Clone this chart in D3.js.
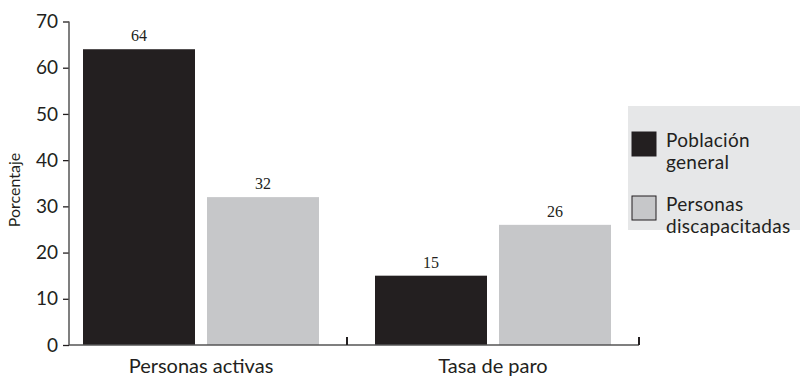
<!DOCTYPE html>
<html>
<head>
<meta charset="utf-8">
<script src="https://cdn.jsdelivr.net/npm/d3@7"></script>
<style>
  body { margin: 0; background: #fff; }
  svg text { font-family: Lato, "Open Sans", sans-serif; fill: #231f20; }
  .value { font-family: "Liberation Serif", serif; font-size: 16px; }
</style>
</head>
<body>
<div id="vis"></div>
<script>
// Data
var categories = ['Personas activas', 'Tasa de paro'];
var series = ['Población general', 'Personas discapacitadas'];
var poblacionGeneral = [64, 15];
var personasDiscapacitadas = [32, 26];
var yTicks = [0, 10, 20, 30, 40, 50, 60, 70];
var colors = ['#231f20', '#c6c7c9'];

var width = 800, height = 378;

var svg = d3.select('#vis').append('svg')
    .attr('width', width)
    .attr('height', height);

// Scales
var yScale = d3.scaleLinear().domain([0, 70]).range([345, 21.5]);
var xScale = d3.scaleBand().domain(categories).range([55, 639]);
var inner = d3.scaleBand().domain(series)
    .range([28, xScale.bandwidth() - 28])
    .paddingInner(12 / 124);

// Table built from the arrays
var rows = categories.map(function(c, i) {
    return { cat: c, values: [
        { s: series[0], v: poblacionGeneral[i] },
        { s: series[1], v: personasDiscapacitadas[i] }
    ] };
});

// Bars
var groups = svg.selectAll('.grp').data(rows).enter().append('g')
    .attr('class', 'grp')
    .attr('transform', function(d) { return 'translate(' + xScale(d.cat) + ',0)'; });

groups.selectAll('rect').data(function(d) { return d.values; }).enter().append('rect')
    .attr('x', function(d) { return inner(d.s); })
    .attr('y', function(d) { return yScale(d.v); })
    .attr('width', inner.bandwidth())
    .attr('height', function(d) { return yScale(0) - yScale(d.v); })
    .attr('fill', function(d, i) { return colors[i]; });

groups.selectAll('.value').data(function(d) { return d.values; }).enter().append('text')
    .attr('class', 'value')
    .attr('x', function(d) { return inner(d.s) + inner.bandwidth() / 2; })
    .attr('y', function(d) { return yScale(d.v) - 8; })
    .attr('text-anchor', 'middle')
    .text(function(d) { return d.v; });

// Y axis
var yAxis = d3.axisLeft(yScale).tickValues(yTicks).tickSize(6).tickPadding(5);
var yAxisG = svg.append('g')
    .attr('transform', 'translate(69,0)')
    .call(yAxis);
yAxisG.select('.domain').remove();
yAxisG.selectAll('.tick line').attr('stroke', '#231f20').attr('stroke-width', 1.3);
yAxisG.selectAll('.tick text')
    .style('font-family', 'Lato, sans-serif')
    .style('font-size', '19px')
    .attr('fill', '#231f20');
svg.append('line')
    .attr('x1', 69).attr('x2', 69)
    .attr('y1', yScale(70)).attr('y2', yScale(0))
    .attr('stroke', '#555').attr('stroke-width', 1.5);

// X axis baseline with upward ticks at the band boundaries
svg.append('line')
    .attr('x1', 69).attr('x2', xScale.range()[1])
    .attr('y1', yScale(0)).attr('y2', yScale(0))
    .attr('stroke', '#555').attr('stroke-width', 1.5);
svg.selectAll('.xtick').data(categories).enter().append('line')
    .attr('class', 'xtick')
    .attr('x1', function(d) { return xScale(d) + xScale.bandwidth(); })
    .attr('x2', function(d) { return xScale(d) + xScale.bandwidth(); })
    .attr('y1', yScale(0)).attr('y2', yScale(0) - 8)
    .attr('stroke', '#231f20').attr('stroke-width', 2);

svg.selectAll('.xlabel').data(categories).enter().append('text')
    .attr('class', 'xlabel')
    .attr('x', function(d) { return xScale(d) + xScale.bandwidth() / 2; })
    .attr('y', 373)
    .attr('text-anchor', 'middle')
    .style('font-size', '20px')
    .text(function(d) { return d; });

// Y axis title
svg.append('text')
    .attr('transform', 'translate(20,190) rotate(-90)')
    .attr('text-anchor', 'middle')
    .style('font-size', '16px')
    .text('Porcentaje');

// Legend
var legend = svg.append('g');
legend.append('rect')
    .attr('x', 628).attr('y', 106)
    .attr('width', 180).attr('height', 124)
    .attr('fill', '#e6e7e8');

var legendLines = [['Población', 'general'], ['Personas', 'discapacitadas']];
var items = legend.selectAll('.item').data(series).enter().append('g')
    .attr('class', 'item')
    .attr('transform', function(d, i) { return 'translate(632,' + (132 + i * 64) + ')'; });
items.append('rect')
    .attr('width', 24).attr('height', 24)
    .attr('fill', function(d, i) { return colors[i]; })
    .attr('stroke', '#231f20').attr('stroke-width', 1);
items.selectAll('.ltxt').data(function(d, i) { return legendLines[i]; }).enter().append('text')
    .attr('class', 'ltxt')
    .attr('x', 34)
    .attr('y', function(d, j) { return 15 + j * 22; })
    .style('font-size', '19px')
    .style('letter-spacing', '0.3px')
    .text(function(d) { return d; });
</script>
</body>
</html>
